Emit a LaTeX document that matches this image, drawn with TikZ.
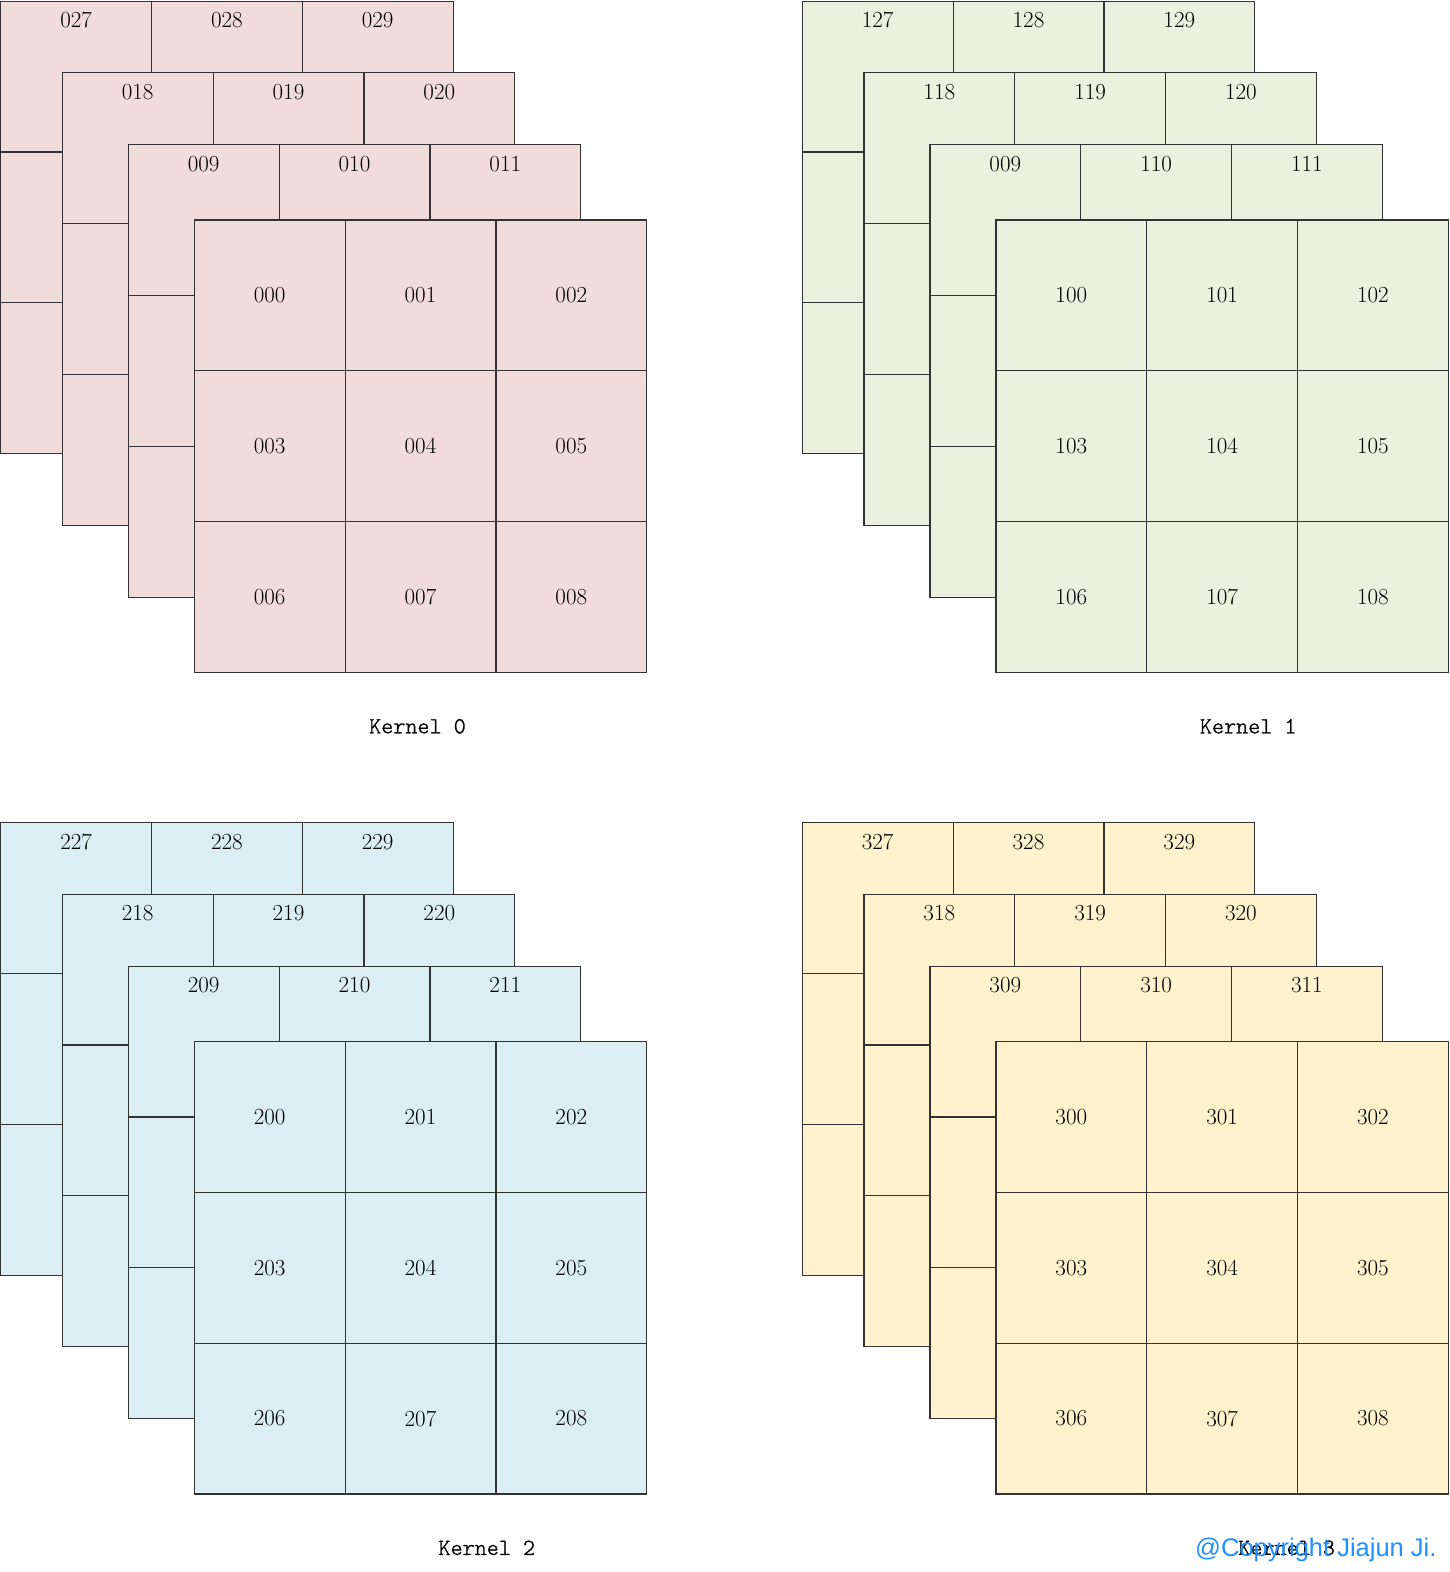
\documentclass[tikz,border=0pt]{standalone}
\usepackage{fontspec}
\newfontfamily\wmfont{Liberation Sans}
\newfontfamily\klfont[FakeBold=1.2]{Latin Modern Mono Light}
\definecolor{kpink}{HTML}{F2DCDB}
\definecolor{kgreen}{HTML}{EBF1DE}
\definecolor{kblue}{HTML}{DAEEF3}
\definecolor{kyellow}{HTML}{FFF2CC}
\definecolor{wmblue}{HTML}{1E90FF}
\begin{document}
\begin{tikzpicture}[x=1pt,y=-1pt,
  gridline/.style={draw=black!80,line width=1.2pt},
  num/.style={font=\fontsize{23}{23}\selectfont,inner sep=0pt},
  klab/.style={font=\klfont\fontsize{23}{23}\selectfont,inner sep=0pt}]
\useasboundingbox (0,0) rectangle (1450,1572);
\def\cs{150.8}
\foreach \k/\kx/\ky/\col/\lx/\first in {0/0/0/kpink/417.5/009, 1/801.6/0/kgreen/446.6/009, 2/0/821.5/kblue/486.8/209, 3/801.6/821.5/kyellow/485/309}{
  \begin{scope}[shift={(\kx,\ky)}]
  \foreach \ox/\oy/\n/\la/\lb/\lc in {0.7/1.2/3/\k27/\k28/\k29, 62.3/72.7/2/\k18/\k19/\k20, 128.3/144.7/1/\first/\k10/\k11}{
     \fill[\col] (\ox,\oy) rectangle ++(3*\cs,3*\cs);
     \foreach \r in {0,1,2} \foreach \c in {0,1,2}
        \draw[gridline] ({\ox+\c*\cs},{\oy+\r*\cs}) rectangle ++(\cs,\cs);
     \node[num] (k\k-l\n-a) at ({\ox+0.5*\cs},{\oy+19}) {\la};
     \node[num] (k\k-l\n-b) at ({\ox+1.5*\cs},{\oy+19}) {\lb};
     \node[num] (k\k-l\n-c) at ({\ox+2.5*\cs},{\oy+19}) {\lc};
  }
  \fill[\col] (194.3,220) rectangle ++(3*\cs,3*\cs);
  \foreach \r in {0,1,2} \foreach \c in {0,1,2}{
     \pgfmathtruncatemacro\i{3*\r+\c}
     \draw[gridline] ({194.3+\c*\cs},{220+\r*\cs}) rectangle ++(\cs,\cs);
     \node[num] (k\k-f\i) at ({194.3+(\c+0.5)*\cs},{220+(\r+0.5)*\cs}) {\k0\i};
  }
  \node[klab] (kl\k) at (\lx,726.3) {Kernel \k};
  \end{scope}
}
\node[font=\wmfont\fontsize{25.5}{25.5}\selectfont,text=wmblue,anchor=base west,inner sep=0pt] (wm) at (1195,1556) {@Copyright Jiajun Ji.};
\end{tikzpicture}
\end{document}
